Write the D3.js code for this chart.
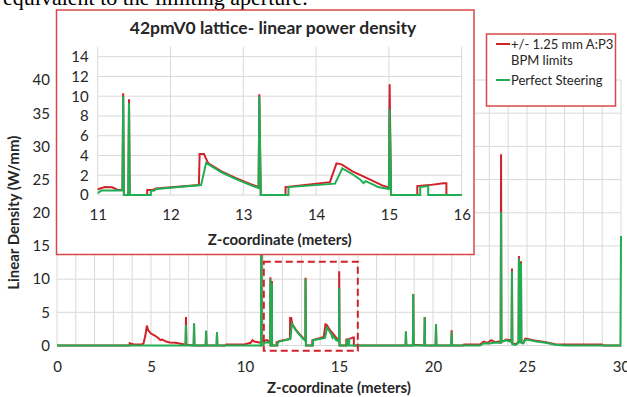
<!DOCTYPE html>
<html>
<head>
<meta charset="utf-8">
<script src="https://cdn.jsdelivr.net/npm/d3@7"></script>
<style>
  body { margin: 0; background: #fff; }
  svg { display: block; }
  text { font-family: Lato, "Open Sans", sans-serif; fill: #262626; }
</style>
</head>
<body>
<div id="chart"></div>
<script>
// series: z (meters) and linear density (W/mm)
const redZ = [0, 3.85, 3.87, 3.95, 4.1, 4.5, 4.6, 4.7, 4.78, 4.85, 5.0, 5.2, 5.4, 5.5, 5.6, 5.8, 6.0, 6.3, 6.5, 6.8, 6.84, 6.86, 6.88,
  7.27, 7.29, 7.31, 7.91, 7.93, 7.95, 8.49, 8.51, 8.53, 8.95, 9.0, 9.8, 10.0, 10.3, 10.4, 10.5, 10.7, 10.85, 10.87, 10.89,
  11.0, 11.1, 11.2, 11.28, 11.34, 11.35, 11.36, 11.42, 11.43, 11.44, 11.68, 11.68, 11.75, 11.8, 12.39, 12.4, 12.46, 12.48, 12.52,
  12.7, 12.9, 13.1, 13.21, 13.22, 13.24, 13.58, 13.58, 14.19, 14.28, 14.35, 14.5, 14.7, 14.9, 15.0, 15.01, 15.03, 15.39, 15.39,
  15.55, 15.75, 15.79, 15.79, 18.54, 18.56, 18.58, 18.93, 18.95, 18.97, 19.54, 19.56, 19.58, 20.14, 20.16, 20.18, 20.97, 20.99, 21.01,
  21.6, 21.65, 22.5, 22.7, 22.9, 23.1, 23.3, 23.5, 23.6, 23.62, 23.64, 23.9, 24.1, 24.18, 24.2, 24.22, 24.4, 24.55, 24.57, 24.6,
  24.66, 24.68, 24.7, 24.8, 24.9, 25.0, 25.5, 26.0, 26.5, 29.0, 29.05, 30];
const redV = [0, 0, 0.35, 0.25, 0.15, 0.15, 0.3, 1.5, 3.0, 2.3, 1.8, 1.5, 1.1, 0.8, 0.9, 0.6, 0.45, 0.4, 0.3, 0.15, 0.15, 4.3, 0.1,
  0, 3.3, 0, 0, 2.2, 0, 0, 2.0, 0, 0, 0.15, 0.15, 0.2, 0.4, 0.8, 0.6, 0.5, 0.4, 25, 0.5,
  0.58, 0.8, 0.78, 0.5, 0.5, 10.3, 0, 0, 9.7, 0, 0, 0.5, 0.5, 0.65, 1.0, 4.15, 4.15, 3.8, 3.2,
  2.4, 1.7, 1.1, 0.8, 10.2, 0, 0, 0.8, 1.3, 3.2, 3.1, 2.4, 1.7, 1.0, 0.75, 11.2, 0, 0, 0.9,
  1.0, 1.2, 1.2, 0, 0, 2.1, 0, 0, 7.75, 0.1, 0, 4.3, 0, 0, 3.2, 0, 0, 2.3, 0,
  0, 0.15, 0.15, 0.6, 0.4, 0.8, 0.5, 0.6, 0.5, 28.8, 0.5, 0.9, 0.8, 0.6, 11.6, 0.3, 0.2, 0.5, 13.5, 0.6,
  0.6, 12.7, 0.5, 0.4, 1.0, 1.0, 0.7, 0.5, 0.2, 0.15, 0, 0];

const greenZ = [0, 6.84, 6.86, 6.88, 7.27, 7.29, 7.31, 7.91, 7.93, 7.95, 8.49, 8.51, 8.53, 10.85, 10.87, 10.89,
  11.0, 11.05, 11.34, 11.35, 11.36, 11.42, 11.43, 11.44, 11.73, 11.73, 11.78, 11.8, 12.42, 12.49, 12.7, 12.9, 13.1, 13.21, 13.22, 13.24,
  13.62, 13.62, 14.26, 14.36, 14.5, 14.6, 14.65, 14.68, 14.8, 14.85, 15.0, 15.01, 15.03, 15.43, 15.43, 15.54, 15.54,
  18.54, 18.56, 18.58, 18.93, 18.95, 18.97, 19.54, 19.56, 19.58, 20.14, 20.16, 20.18, 20.97, 20.99, 21.01,
  22.5, 22.7, 23.0, 23.3, 23.6, 23.62, 23.64, 23.9, 24.1, 24.18, 24.2, 24.22, 24.4, 24.55, 24.57, 24.6,
  24.66, 24.68, 24.7, 24.8, 24.9, 25.0, 25.5, 26.0, 26.5, 27.0, 29.97, 30];
const greenV = [0, 0, 3.1, 0, 0, 3.3, 0, 0, 2.2, 0, 0, 2.0, 0, 0, 25, 0,
  0.2, 0.45, 0.45, 10.0, 0, 0, 9.3, 0, 0, 0.4, 0.45, 0.6, 1.0, 3.25, 2.3, 1.6, 1.0, 0.7, 10.0, 0,
  0, 0.8, 1.15, 2.7, 2.1, 1.6, 1.2, 1.4, 1.0, 0.8, 0.6, 8.7, 0, 0, 0.8, 0.9, 0,
  0, 2.1, 0, 0, 7.75, 0, 0, 4.3, 0, 0, 3.2, 0, 0, 2.0, 0,
  0, 0.35, 0.3, 0.45, 0.4, 20.1, 0.6, 0.8, 0.6, 0.5, 11.2, 0.2, 0.1, 0.4, 13.1, 0.5,
  0.5, 12.4, 0.4, 0.3, 0.8, 0.9, 0.6, 0.4, 0.1, 0, 0, 16.5];

const seriesNames = ['+/- 1.25 mm A:P3', 'BPM limits', 'Perfect Steering'];
const mainYTicks = [0, 5, 10, 15, 20, 25, 30, 35, 40];
const mainXTicks = [0, 5, 10, 15, 20, 25, 30];
const insetYTicks = [0, 2, 4, 6, 8, 10, 12, 14];
const insetXTicks = [11, 12, 13, 14, 15, 16];
const zoomRange = [11, 16];

const RED = '#d3212a', GREEN = '#1fae51', GRID = '#d9d9d9';
const W = 627, H = 397;

const red = redZ.map((z, i) => ({ z, v: redV[i] }));
const green = greenZ.map((z, i) => ({ z, v: greenV[i] }));

const svg = d3.select('#chart').append('svg').attr('width', W).attr('height', H);

// cut-off sentence from the paper above the figure
svg.append('text')
  .attr('x', 3).attr('y', 5)
  .style('font-family', '"Liberation Serif", serif')
  .style('font-size', '22px')
  .style('fill', '#000')
  .text('equivalent to the limiting aperture.');

// ---- main chart
const x = d3.scaleLinear().domain([0, 30]).range([57, 621]);
const y = d3.scaleLinear().domain([0, 40]).range([345.5, 80]);

const main = svg.append('g');
main.selectAll('.vgrid').data(d3.range(0, 31)).enter().append('line')
  .attr('x1', d => x(d)).attr('x2', d => x(d))
  .attr('y1', y(0)).attr('y2', y(40))
  .attr('stroke', GRID).attr('stroke-width', 1);
main.selectAll('.hgrid').data(mainYTicks).enter().append('line')
  .attr('x1', x(0)).attr('x2', x(30))
  .attr('y1', d => y(d)).attr('y2', d => y(d))
  .attr('stroke', GRID).attr('stroke-width', 1);

const yAxis = main.append('g').attr('transform', `translate(${x(0)},0)`)
  .call(d3.axisLeft(y).tickValues(mainYTicks).tickFormat(d3.format('d')).tickSize(0).tickPadding(7));
const xAxis = main.append('g').attr('transform', `translate(0,${y(0)})`)
  .call(d3.axisBottom(x).tickValues(mainXTicks).tickFormat(d3.format('d')).tickSize(0).tickPadding(16));
[yAxis, xAxis].forEach(a => {
  a.select('.domain').remove();
  a.selectAll('text').style('font-size', '15px').style('font-family', 'Lato, sans-serif').attr('fill', '#404040');
});

const line = d3.line().x(d => x(d.z)).y(d => y(d.v));
main.append('path').datum(red).attr('d', line)
  .attr('fill', 'none').attr('stroke', RED).attr('stroke-width', 2);
main.append('path').datum(green).attr('d', line)
  .attr('fill', 'none').attr('stroke', GREEN).attr('stroke-width', 2);

// dashed zoom box
main.append('rect')
  .attr('x', x(zoomRange[0])).attr('y', y(12.6))
  .attr('width', x(zoomRange[1]) - x(zoomRange[0]))
  .attr('height', y(-0.8) - y(12.6))
  .attr('fill', 'none').attr('stroke', RED).attr('stroke-width', 2)
  .attr('stroke-dasharray', '7 4');

main.append('text')
  .attr('x', (x(0) + x(30)) / 2).attr('y', 393)
  .attr('text-anchor', 'middle')
  .style('font-size', '15px').style('font-weight', 'bold')
  .text('Z-coordinate (meters)');
main.append('text')
  .attr('transform', `translate(19,${(y(0) + y(40)) / 2}) rotate(-90)`)
  .attr('text-anchor', 'middle')
  .style('font-size', '15px').style('font-weight', 'bold')
  .text('Linear Density (W/mm)');

// ---- inset
const inset = svg.append('g');
inset.append('rect')
  .attr('x', 56.5).attr('y', 10).attr('width', 417.5).attr('height', 244.5)
  .attr('fill', '#fff').attr('stroke', '#d94848').attr('stroke-width', 1.5);

const ix = d3.scaleLinear().domain(zoomRange).range([97.7, 461.7]);
const iy = d3.scaleLinear().domain([0, 15]).range([195, 46.8]);

inset.selectAll('.ivgrid').data(insetXTicks).enter().append('line')
  .attr('x1', d => ix(d)).attr('x2', d => ix(d))
  .attr('y1', iy(0)).attr('y2', iy(15))
  .attr('stroke', GRID).attr('stroke-width', 1);
inset.selectAll('.ihgrid').data(insetYTicks).enter().append('line')
  .attr('x1', ix(11)).attr('x2', ix(16))
  .attr('y1', d => iy(d)).attr('y2', d => iy(d))
  .attr('stroke', GRID).attr('stroke-width', 1);

const iyAxis = inset.append('g').attr('transform', `translate(${ix(11)},0)`)
  .call(d3.axisLeft(iy).tickValues(insetYTicks).tickFormat(d3.format('d')).tickSize(0).tickPadding(9));
const ixAxis = inset.append('g').attr('transform', `translate(0,${iy(0)})`)
  .call(d3.axisBottom(ix).tickValues(insetXTicks).tickFormat(d3.format('d')).tickSize(0).tickPadding(14));
[iyAxis, ixAxis].forEach(a => {
  a.select('.domain').remove();
  a.selectAll('text').style('font-size', '15px').style('font-family', 'Lato, sans-serif').attr('fill', '#404040');
});

svg.append('clipPath').attr('id', 'insetClip').append('rect')
  .attr('x', ix(11)).attr('y', iy(15)).attr('width', ix(16) - ix(11)).attr('height', iy(0) - iy(15) + 2);

const iline = d3.line().x(d => ix(d.z)).y(d => iy(d.v));
inset.append('path').datum(red).attr('d', iline).attr('clip-path', 'url(#insetClip)')
  .attr('fill', 'none').attr('stroke', RED).attr('stroke-width', 2);
inset.append('path').datum(green).attr('d', iline).attr('clip-path', 'url(#insetClip)')
  .attr('fill', 'none').attr('stroke', GREEN).attr('stroke-width', 2);

inset.append('text')
  .attr('x', 273).attr('y', 34)
  .attr('text-anchor', 'middle')
  .style('font-size', '17.5px').style('font-weight', 'bold')
  .text('42pmV0 lattice- linear power density');
inset.append('text')
  .attr('x', (ix(11) + ix(16)) / 2).attr('y', 245)
  .attr('text-anchor', 'middle')
  .style('font-size', '15px').style('font-weight', 'bold')
  .text('Z-coordinate (meters)');

// ---- legend
const legend = svg.append('g');
legend.append('rect')
  .attr('x', 486.5).attr('y', 34).attr('width', 129).attr('height', 72)
  .attr('fill', '#fff').attr('stroke', '#d94848').attr('stroke-width', 1.5);
const legendRows = [
  { color: RED, label: seriesNames[0], y: 44 },
  { color: null, label: seriesNames[1], y: 60 },
  { color: GREEN, label: seriesNames[2], y: 80 }
];
legendRows.forEach(r => {
  if (r.color) {
    legend.append('line')
      .attr('x1', 496).attr('x2', 510).attr('y1', r.y).attr('y2', r.y)
      .attr('stroke', r.color).attr('stroke-width', 2);
  }
  legend.append('text')
    .attr('x', 511).attr('y', r.y).attr('dy', '0.35em')
    .style('font-size', '13px').attr('fill', '#333')
    .text(r.label);
});
</script>
</body>
</html>
